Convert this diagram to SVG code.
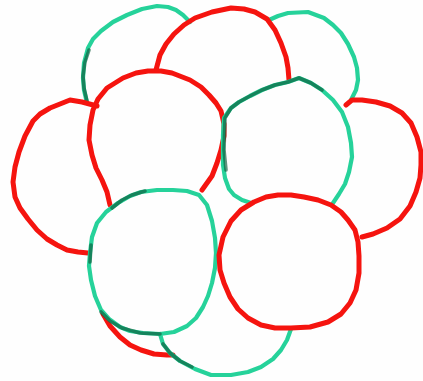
<svg xmlns="http://www.w3.org/2000/svg" width="423" height="381" viewBox="0 0 423 381">
<style>
.r{fill:none;stroke:#f5140f;stroke-width:5;stroke-linecap:round;stroke-linejoin:round}
.g{fill:none;stroke:#26d29a;stroke-width:4.2;stroke-linecap:round;stroke-linejoin:round}
.d{fill:none;stroke:#0d5a3a;stroke-width:3.6;stroke-linecap:round;stroke-linejoin:round;opacity:0.65}
</style>
<rect width="423" height="381" fill="#fefefe"/>
<g id="green-top-left">
<path class="g" d="M87,103 L84,90 L83,78 L84,63 L88,48 L93,39 L101,31 L113,22 L127,15 L142,9 L157,6 L168,7 L176,10 L183,15 L190,22"/>
<path class="d" d="M87,101 L84,88 L83,76 L85,62 L89,50"/>
</g>
<g id="green-top-right">
<path class="g" d="M269,20 L278,16 L288,13 L308,12 L324,18 L333,25 L341,33 L348,44 L354,57 L357,68 L358,80 L356,90 L351,100"/>
</g>
<g id="red-top">
<path class="r" d="M156,70 L160,55 L166,44 L174,34 L184,25 L195,18 L212,12 L231,8 L244,9 L255,12 L267,19 L275,30 L281,43 L286,57 L288,68 L289,80"/>
</g>
<g id="red-left">
<path class="r" d="M97,106 L82,102 L70,100 L65,102 L50,108 L40,114 L33,121 L25,136 L19,152 L15,167 L13,182 L15,197 L20,208 L28,219 L37,230 L47,239 L57,245 L67,250 L78,252 L88,253"/>
</g>
<g id="red-right">
<path class="r" d="M346,105 L352,100 L362,100 L376,102 L390,106 L402,113 L411,123 L417,137 L421,152 L421,165 L420,178 L416,192 L410,206 L400,219 L387,228 L373,234 L362,237"/>
</g>
<g id="red-bottom-left">
<path class="r" d="M103,314 L110,326 L120,337 L130,345 L141,350 L154,354 L167,355 L173,355"/>
</g>
<g id="green-bottom">
<path class="g" d="M160,334 L163,344 L170,353 L180,361 L195,369 L211,375 L231,375 L248,372 L261,367 L273,359 L281,350 L287,340 L291,329"/>
<path class="d" d="M163,344 L170,353 L180,361 L192,367"/>
</g>
<g id="red-front-left">
<path class="r" d="M110,205 L107,192 L102,180 L96,168 L92,155 L89,140 L90,125 L93,110 L98,99 L107,88 L123,78 L136,73 L148,71 L161,71 L172,73 L190,80 L201,87 L209,95 L216,103 L221,111 L224,124 L224,136 L221,150 L217,163 L212,176 L202,190"/>
</g>
<g id="green-mid-right">
<path class="g" d="M251,203 L242,200 L234,195 L229,189 L225,178 L223,165 L223,150 L223,135 L224,118 L231,108 L239,102 L250,96 L262,90 L275,85 L288,82 L299,78 L311,83 L322,90 L333,100 L342,112 L348,127 L351,143 L352,157 L349,172 L345,184 L339,194 L333,203"/>
<path class="d" d="M226,170 L224,150 L225,118 L231,108 L239,102 L250,96 L262,90 L275,85 L288,82 L299,78 L311,83 L322,90"/>
</g>
<g id="green-bottom-left">
<path class="g" d="M90,253 L92,237 L97,223 L106,212 L118,203 L130,196 L141,192 L157,190 L173,190 L187,191 L199,195 L207,205 L212,221 L215,238 L216,253 L215,268 L212,283 L208,296 L203,307 L196,318 L187,326 L174,332 L160,334 L143,333 L130,331 L120,327 L109,319 L101,310 L95,296 L91,280 L89,266 Z"/>
<path class="d" d="M112,208 L122,200 L132,195 L145,191 M90,262 L91,245 M101,312 L110,321 L122,328 L140,333 L160,334"/>
</g>
<g id="red-bottom-right">
<path class="r" d="M219,255 L223,237 L231,221 L241,210 L254,202 L266,197 L278,195 L291,195 L304,197 L318,200 L331,205 L341,212 L348,220 L355,230 L358,242 L359,256 L359,273 L356,290 L350,303 L341,314 L328,322 L310,327 L291,328 L275,328 L261,325 L248,318 L238,309 L230,297 L224,283 L220,270 Z"/>
</g>
</svg>
